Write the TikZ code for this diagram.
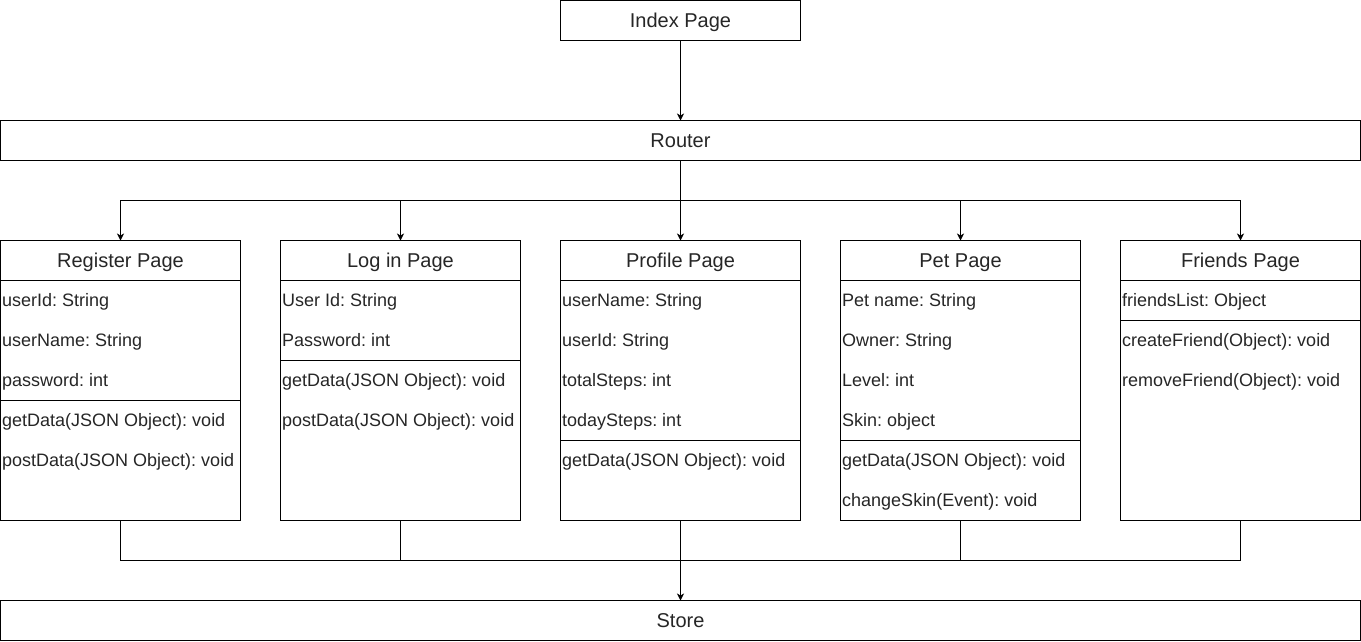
\documentclass[tikz,border=0pt]{standalone}
\usepackage{fontspec}
\setmainfont{Liberation Sans}
\usetikzlibrary{arrows.meta}
\frenchspacing
\begin{document}
\begin{tikzpicture}[x=1pt,y=-1pt,
  box/.style={draw,line width=1pt,inner sep=0pt,outer sep=0pt,font=\fontsize{20}{24}\selectfont,text=black!85},
  cls/.style={draw,line width=1pt,inner sep=0pt,outer sep=0pt,minimum width=240,minimum height=280},
  head/.style={inner sep=0pt,anchor=base,yshift=-7.2pt,font=\fontsize{20}{24}\selectfont,text=black!85},
  attr/.style={anchor=base west,inner sep=0pt,yshift=-6.5pt,font=\fontsize{18}{22}\selectfont,text=black!85},
  sep/.style={line width=1pt},
  ln/.style={line width=1pt},
  arr/.style={line width=1pt,-{Stealth[length=7pt,width=7pt,inset=2pt]}}]
\useasboundingbox (0,0) rectangle (1361,641);

\node[box,minimum width=240,minimum height=40] (index) at (680.5,20.5) {};
\node[head] (index-t) at (680.5,20.5) {Index Page};
\node[box,minimum width=1360,minimum height=40] (router) at (680.5,140.5) {};
\node[head] (router-t) at (680.5,140.5) {Router};
\node[box,minimum width=1360,minimum height=40] (store) at (680.5,620.5) {};
\node[head] (store-t) at (680.5,620.5) {Store};

% Register Page
\node[cls] (reg) at (120.5,380.5) {};
\node[head] (reg-h) at (120.5,260.5) {Register Page};
\draw[sep] (0.5,280.5) -- (240.5,280.5);
\node[attr] (reg-a1) at (2,300) {userId: String};
\node[attr] (reg-a2) at (2,340) {userName: String};
\node[attr] (reg-a3) at (2,380) {password: int};
\draw[sep] (0.5,400.5) -- (240.5,400.5);
\node[attr] (reg-m1) at (2,420) {getData(JSON Object): void};
\node[attr] (reg-m2) at (2,460) {postData(JSON Object): void};

% Log in Page
\node[cls] (log) at (400.5,380.5) {};
\node[head] (log-h) at (400.5,260.5) {Log in Page};
\draw[sep] (280.5,280.5) -- (520.5,280.5);
\node[attr] (log-a1) at (282,300) {User Id: String};
\node[attr] (log-a2) at (282,340) {Password: int};
\draw[sep] (280.5,360.5) -- (520.5,360.5);
\node[attr] (log-m1) at (282,380) {getData(JSON Object): void};
\node[attr] (log-m2) at (282,420) {postData(JSON Object): void};

% Profile Page
\node[cls] (pro) at (680.5,380.5) {};
\node[head] (pro-h) at (680.5,260.5) {Profile Page};
\draw[sep] (560.5,280.5) -- (800.5,280.5);
\node[attr] (pro-a1) at (562,300) {userName: String};
\node[attr] (pro-a2) at (562,340) {userId: String};
\node[attr] (pro-a3) at (562,380) {totalSteps: int};
\node[attr] (pro-a4) at (562,420) {todaySteps: int};
\draw[sep] (560.5,440.5) -- (800.5,440.5);
\node[attr] (pro-m1) at (562,460) {getData(JSON Object): void};

% Pet Page
\node[cls] (pet) at (960.5,380.5) {};
\node[head] (pet-h) at (960.5,260.5) {Pet Page};
\draw[sep] (840.5,280.5) -- (1080.5,280.5);
\node[attr] (pet-a1) at (842,300) {Pet name: String};
\node[attr] (pet-a2) at (842,340) {Owner: String};
\node[attr] (pet-a3) at (842,380) {Level: int};
\node[attr] (pet-a4) at (842,420) {Skin: object};
\draw[sep] (840.5,440.5) -- (1080.5,440.5);
\node[attr] (pet-m1) at (842,460) {getData(JSON Object): void};
\node[attr] (pet-m2) at (842,500) {changeSkin(Event): void};

% Friends Page
\node[cls] (fri) at (1240.5,380.5) {};
\node[head] (fri-h) at (1240.5,260.5) {Friends Page};
\draw[sep] (1120.5,280.5) -- (1360.5,280.5);
\node[attr] (fri-a1) at (1122,300) {friendsList: Object};
\draw[sep] (1120.5,320.5) -- (1360.5,320.5);
\node[attr] (fri-m1) at (1122,340) {createFriend(Object): void};
\node[attr] (fri-m2) at (1122,380) {removeFriend(Object): void};

% connectors
\coordinate (top) at (680.5,200.5);
\coordinate (bot) at (680.5,560.5);
\draw[arr] (index) -- (router);
\draw[ln] (router.south) -- (top);
\draw[arr] (top) -| (reg.north);
\draw[arr] (top) -| (log.north);
\draw[arr] (top) -- (pro.north);
\draw[arr] (top) -| (pet.north);
\draw[arr] (top) -| (fri.north);

\draw[ln] (reg.south) |- (bot);
\draw[ln] (log.south) |- (bot);
\draw[ln] (pet.south) |- (bot);
\draw[ln] (fri.south) |- (bot);
\draw[arr] (pro.south) -- (store.north);
\end{tikzpicture}
\end{document}
